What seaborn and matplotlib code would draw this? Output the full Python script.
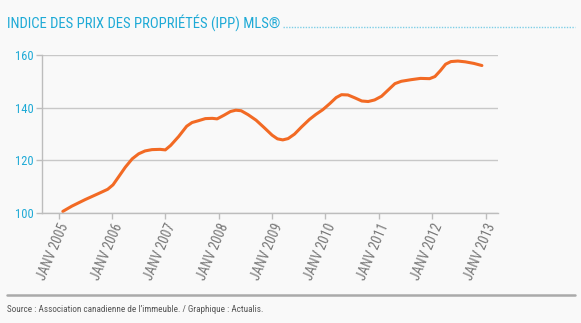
import matplotlib
matplotlib.use("Agg")
import matplotlib.pyplot as plt
from matplotlib import font_manager
import seaborn as sns
import pandas as pd

years = [2005.08, 2005.25, 2005.5, 2005.75, 2005.92, 2006.02, 2006.12, 2006.25, 2006.38, 2006.5,
         2006.62, 2006.75, 2006.9, 2007.0, 2007.1, 2007.25, 2007.4, 2007.5, 2007.62, 2007.75,
         2007.88, 2007.97, 2008.1, 2008.22, 2008.32, 2008.42, 2008.55, 2008.7, 2008.85, 2009.0,
         2009.1, 2009.2, 2009.3, 2009.42, 2009.55, 2009.7, 2009.82, 2009.95, 2010.08, 2010.2,
         2010.3, 2010.42, 2010.55, 2010.68, 2010.8, 2010.92, 2011.05, 2011.18, 2011.3, 2011.42,
         2011.6, 2011.78, 2011.95, 2012.05, 2012.15, 2012.25, 2012.35, 2012.48, 2012.62, 2012.78,
         2012.93]
ipp = [100.5, 102.5, 105.0, 107.3, 108.9, 110.6, 113.5, 117.3, 120.5, 122.4,
       123.5, 124.0, 124.1, 123.9, 125.6, 129.0, 132.9, 134.3, 135.0, 135.8,
       135.9, 135.7, 137.1, 138.5, 139.0, 138.8, 137.3, 135.2, 132.4, 129.5,
       128.1, 127.7, 128.2, 129.9, 132.6, 135.5, 137.4, 139.2, 141.5, 143.8,
       144.9, 144.8, 143.7, 142.5, 142.3, 142.9, 144.3, 146.8, 149.1, 150.0,
       150.6, 151.1, 151.0, 151.8, 154.0, 156.5, 157.5, 157.7, 157.4, 156.8,
       156.0]
tick_years = list(range(2005, 2014))
tick_labels = [f"JANV {y}" for y in tick_years]
y_ticks = [100, 120, 140, 160]
title = "INDICE DES PRIX DES PROPRIÉTÉS (IPP) MLS®"
source = "Source : Association canadienne de l\u2019immeuble. / Graphique : Actualis."

names = {f.name for f in font_manager.fontManager.ttflist}
fam = "DejaVu Sans"
for cand in ["Roboto Condensed", "Liberation Sans Narrow", "Open Sans Condensed",
             "DejaVu Sans Condensed", "Roboto"]:
    if cand in names:
        fam = cand
        break

sns.set_theme(style="white")
plt.rcParams["font.family"] = [fam, "DejaVu Sans"]

BG = "#f9f9f9"
CYAN = "#1eaad6"
GRAY = "#777777"
ORANGE = "#f26a24"

df = pd.DataFrame({"annee": years, "ipp": ipp})

fig = plt.figure(figsize=(5.81, 3.23), dpi=100, facecolor=BG)
ax = fig.add_axes([0.0723, 0.3415, 0.857 - 0.0723, 0.8297 - 0.3415])
ax.set_facecolor(BG)
sns.lineplot(data=df, x="annee", y="ipp", ax=ax, color=ORANGE, linewidth=2.2,
             solid_capstyle="round", solid_joinstyle="round")
ax.set_xlim(2004.69, 2013.23)
ax.set_ylim(100, 160)
ax.set_yticks(y_ticks)
ax.set_yticklabels([str(v) for v in y_ticks], color=CYAN, fontsize=9)
ax.set_xticks(tick_years)
ax.set_xticklabels(tick_labels, rotation=67, ha="right", va="top",
                   rotation_mode="anchor", color=GRAY, fontsize=9.8)
ax.set_xlabel("")
ax.set_ylabel("")
ax.grid(axis="y", color="#c8c8c8", linewidth=1)
ax.set_axisbelow(True)
for s in ["top", "right"]:
    ax.spines[s].set_visible(False)
for s in ["left", "bottom"]:
    ax.spines[s].set_color("#bdbdbd")
    ax.spines[s].set_linewidth(1)
ax.tick_params(axis="both", which="both", length=4, width=1, color="#bdbdbd",
               direction="out", bottom=True, left=True, pad=2)

fig.text(0.012, 0.915, title, color=CYAN, fontsize=10.5, ha="left", va="baseline")
fig.add_artist(plt.Line2D([0.487, 0.99], [0.915, 0.915], transform=fig.transFigure,
                          color="#7fcfe6", linewidth=1.0, linestyle=(0, (1, 1))))
fig.add_artist(plt.Line2D([0.012, 0.99], [0.087, 0.087], transform=fig.transFigure,
                          color="#aaaaaa", linewidth=1.8))
fig.text(0.012, 0.035, source, color="#555555", fontsize=6.6, ha="left", va="baseline")

fig.savefig("out.png", dpi=100, facecolor=BG)
